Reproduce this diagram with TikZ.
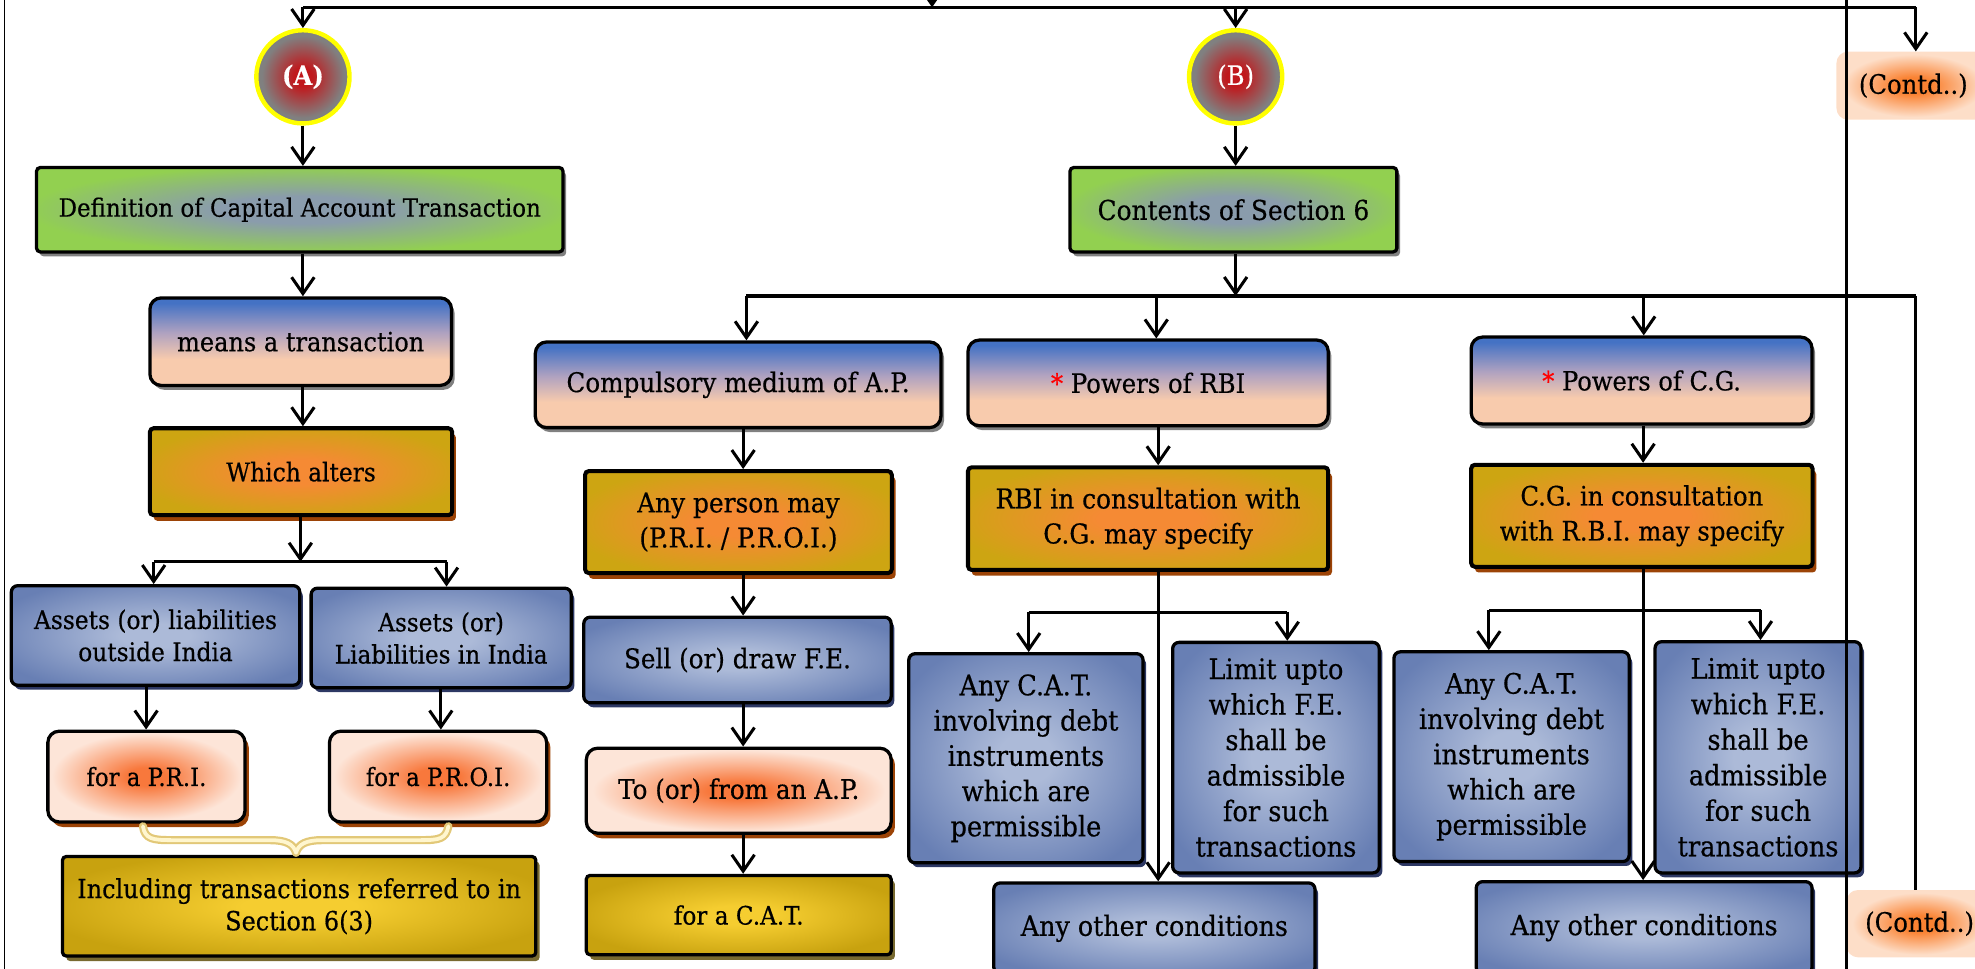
\documentclass[tikz,border=0pt]{standalone}
\usepackage{fontspec}
\setmainfont[Scale=0.885, FakeStretch=0.91, FakeBold=0.45]{DejaVu Serif}
\usetikzlibrary{arrows.meta,shadows}

% palette
\definecolor{grnOut}{RGB}{146,208,80}
\definecolor{grnIn}{RGB}{138,156,172}
\definecolor{bpBlue}{RGB}{68,114,196}
\definecolor{bpLav}{RGB}{176,162,192}
\definecolor{bpPeach}{RGB}{248,203,173}
\definecolor{musOut}{RGB}{205,165,18}
\definecolor{musIn}{RGB}{245,138,52}
\definecolor{musShadow}{RGB}{156,67,6}
\definecolor{slateOut}{RGB}{104,127,180}
\definecolor{slateIn}{RGB}{172,186,216}
\definecolor{slateShadow}{RGB}{45,56,100}
\definecolor{pchOut}{RGB}{253,229,216}
\definecolor{pchIn}{RGB}{248,120,60}
\definecolor{goldOut}{RGB}{200,162,15}
\definecolor{goldIn}{RGB}{245,205,48}
\definecolor{goldShadow}{RGB}{120,106,48}
\definecolor{ctdOut}{RGB}{253,222,200}
\definecolor{ctdIn}{RGB}{250,130,50}
\definecolor{ballOut}{RGB}{128,128,128}
\definecolor{ballIn}{RGB}{192,24,28}
\definecolor{ballRim}{RGB}{255,255,0}
\definecolor{softShadow}{RGB}{128,128,128}
\definecolor{braceEdge}{RGB}{226,200,120}
\definecolor{braceFill}{RGB}{255,246,206}

% glows and gradients used as box fills
\pgfdeclareradialshading{greenglow}{\pgfpointorigin}{color(0bp)=(grnIn); color(8bp)=(grnIn); color(26bp)=(grnOut); color(50bp)=(grnOut)}
\pgfdeclareradialshading{mustglow}{\pgfpointorigin}{color(0bp)=(musIn); color(7bp)=(musIn); color(28bp)=(musOut); color(50bp)=(musOut)}
\pgfdeclareradialshading{slateglow}{\pgfpointorigin}{color(0bp)=(slateIn); color(6bp)=(slateIn); color(30bp)=(slateOut); color(50bp)=(slateOut)}
\pgfdeclareradialshading{peachglow}{\pgfpointorigin}{color(0bp)=(pchIn); color(5bp)=(pchIn); color(24bp)=(pchOut); color(50bp)=(pchOut)}
\pgfdeclareradialshading{goldglow}{\pgfpointorigin}{color(0bp)=(goldIn); color(6bp)=(goldIn); color(28bp)=(goldOut); color(50bp)=(goldOut)}
\pgfdeclareradialshading{contdglow}{\pgfpointorigin}{color(0bp)=(ctdIn); color(6bp)=(ctdIn); color(23bp)=(ctdOut); color(50bp)=(ctdOut)}
\pgfdeclareradialshading{ballglow}{\pgfpointorigin}{color(0bp)=(ballIn); color(5bp)=(ballIn); color(22bp)=(ballOut); color(50bp)=(ballOut)}
\pgfdeclareverticalshading{bluepeach}{100bp}{color(0bp)=(bpPeach); color(40bp)=(bpPeach); color(55bp)=(bpLav); color(72bp)=(bpBlue); color(100bp)=(bpBlue)}

\newcommand\setfs[2]{\fontsize{#1bp}{#2bp}\selectfont}
% box given by its corners: style, name, x1, y1, x2, y2, text
\newcommand\placebox[7]{\node[#1, minimum width={((#5)-(#3))*1bp}, minimum height={((#6)-(#4))*1bp}] (#2) at ({((#3)+(#5))/2},{((#4)+(#6))/2}) {#7};}

\begin{document}
\begin{tikzpicture}[x=1bp, y=-1bp,
  conn/.style={line width=2.4bp, draw=black},
  arr/.style={conn, -{Straight Barb[length=13bp,width=18bp]}},
  boxbase/.style={draw=black, line width=2.6bp, align=center, inner sep=0pt, shade, font=\setfs{24}{28}},
  greenbox/.style={boxbase, rounded corners=3bp, shading=greenglow,
    drop shadow={shadow xshift=2.5bp, shadow yshift=-3.5bp, fill=softShadow, opacity=1}},
  gradbox/.style={boxbase, rounded corners=9bp, shading=bluepeach,
    drop shadow={shadow xshift=2.5bp, shadow yshift=-3.5bp, fill=softShadow, opacity=1}},
  mustbox/.style={boxbase, line width=3.2bp, rounded corners=3bp, shading=mustglow,
    drop shadow={shadow xshift=3bp, shadow yshift=-4.5bp, fill=musShadow, opacity=1}},
  slatebox/.style={boxbase, rounded corners=5bp, shading=slateglow,
    drop shadow={shadow xshift=2.5bp, shadow yshift=-3.5bp, fill=slateShadow, opacity=1}},
  peachbox/.style={boxbase, rounded corners=9bp, shading=peachglow,
    drop shadow={shadow xshift=3bp, shadow yshift=-4bp, fill=musShadow, opacity=1}},
  goldbox/.style={boxbase, rounded corners=3bp, shading=goldglow,
    drop shadow={shadow xshift=3bp, shadow yshift=-4bp, fill=goldShadow, opacity=1}},
  contdbox/.style={draw=none, shade, shading=contdglow, rounded corners=9bp, align=center, inner sep=0pt, font=\setfs{24}{28}},
  ball/.style={circle, draw=ballRim, line width=3.5bp, shade, shading=ballglow, minimum size=74bp, inner sep=0pt, text=white, font=\setfs{24}{26}},
]
\useasboundingbox (0,0) rectangle (1568,769);
\clip (0,0) rectangle (1568,769);

% ---------- column (A) ----------
\node[ball] (circA) at (240.5,61) {\textbf{(A)}};
\placebox{greenbox, font=\setfs{22.6}{26}}{def}{29}{133}{447}{200}{Definition of Capital Account Transaction}
\placebox{gradbox, font=\setfs{23.7}{27}}{means}{119}{236.5}{358.5}{306}{means a transaction}
\placebox{mustbox, font=\setfs{23}{27}}{alters}{119}{340}{359}{409}{Which alters}
\placebox{slatebox, font=\setfs{23}{25.5}}{assetsOut}{9}{465}{238}{544}{Assets (or) liabilities\\outside India}
\placebox{slatebox, font=\setfs{22.8}{25.5}}{assetsIn}{247}{467}{453.5}{546}{Assets (or)\\Liabilities in India}
\placebox{peachbox, font=\setfs{22.5}{26}}{pri}{38}{580.5}{194.5}{652.6}{for a P.R.I.}
\placebox{peachbox, font=\setfs{22.5}{26}}{proi}{261.6}{580.5}{434}{652.6}{for a P.R.O.I.}
\placebox{goldbox, font=\setfs{23.6}{25.5}}{incl}{49.6}{680}{425.4}{759}{Including transactions referred to in\\Section 6(3)}

% ---------- column (B) ----------
\node[ball] (circB) at (981,61) {(B)};
\placebox{greenbox, font=\setfs{24.5}{28}}{cont}{849.5}{133}{1109}{200}{Contents of Section 6}

\placebox{gradbox, font=\setfs{24.3}{28}}{comp}{425}{271.5}{747}{339.5}{Compulsory medium of A.P.}
\placebox{mustbox, font=\setfs{24.5}{27.8}}{anyp}{464.5}{374}{708}{455}{Any person may\\(P.R.I. / P.R.O.I.)}
\placebox{slatebox, font=\setfs{24.3}{28}}{sell}{463.5}{490}{707.5}{558}{Sell (or) draw F.E.}
\placebox{peachbox, font=\setfs{24.3}{28}}{toap}{465.5}{594}{707.5}{661.5}{To (or) from an A.P.}
\placebox{goldbox, font=\setfs{22.8}{28}}{forcat}{465.5}{695}{707.5}{758}{for a C.A.T.}

\placebox{gradbox, font=\setfs{24}{28}}{prbi}{768.5}{270}{1054.5}{338}{{\color{red}*} Powers of RBI}
\placebox{mustbox, font=\setfs{24.5}{27.8}}{rbic}{768.5}{371}{1054.5}{452.5}{RBI in consultation with\\C.G. may specify}
\placebox{slatebox, font=\setfs{25.3}{28}}{catR}{721.5}{519}{907.5}{685}{Any C.A.T.\\involving debt\\instruments\\which are\\permissible}
\placebox{slatebox, font=\setfs{25.3}{28.2}}{limR}{931}{510}{1095}{693}{Limit upto\\which F.E.\\shall be\\admissible\\for such\\transactions}
\placebox{slatebox, font=\setfs{25}{28}}{othR}{789}{701}{1044}{773}{Any other conditions}

\placebox{gradbox, font=\setfs{23.8}{28}}{pcg}{1168}{267.6}{1438.6}{336.6}{{\color{red}*} Powers of C.G.}
\placebox{mustbox, font=\setfs{24}{27.8}}{cgc}{1168}{369}{1439}{450}{C.G. in consultation\\with R.B.I. may specify}
\placebox{slatebox, font=\setfs{25.3}{28}}{catC}{1106.7}{517.5}{1293.4}{684}{Any C.A.T.\\involving debt\\instruments\\which are\\permissible}
\placebox{slatebox, font=\setfs{25.3}{28.2}}{limC}{1314}{509.5}{1477.5}{693}{Limit upto\\which F.E.\\shall be\\admissible\\for such\\transactions}
\placebox{slatebox, font=\setfs{25}{28}}{othC}{1172}{700}{1438.6}{773}{Any other conditions}

% ---------- continuation markers ----------
\placebox{contdbox}{contd1}{1458}{41}{1580}{95}{(Contd..)}
\placebox{contdbox}{contd2}{1466}{706.6}{1582}{760}{(Contd..)}

% brace joining the two P.R.I. / P.R.O.I. boxes
\coordinate (brL) at (113.5,656);
\coordinate (brR) at (356,656);
\coordinate (brTip) at (235,677);
\foreach \wd/\col in {6.5bp/braceEdge, 3bp/braceFill}{
  \draw[line width=\wd, \col, line cap=round, line join=round]
    (brL) .. controls (115,666) and (121,667) .. (136,667) -- (214,667)
    .. controls (227,667) and (233,670) .. (brTip)
    .. controls (237,670) and (243,667) .. (256,667) -- (334,667)
    .. controls (349,667) and (354,666) .. (brR);
}

% ---------- connectors ----------
\coordinate (inTop) at (740,-30);
\coordinate (topA) at (240.5,5.8);
\coordinate (topC) at (1521,5.8);
\draw[conn] (topA) -- (topC);
\draw[arr] (inTop) -- (inTop |- topA);
\draw[arr] (topA) -- (circA);
\draw[arr] (circB |- topA) -- (circB);
\draw[arr] (topC) -- (topC |- contd1.north);

\draw[arr] (circA) -- (circA |- def.north);
\draw[arr] (def.south -| circA) -- (means.north -| circA);
\draw[arr] (means.south -| circA) -- (alters.north -| circA);

\coordinate (jA) at (238.5,446);
\coordinate (jAL) at (122,446);
\coordinate (jAR) at (354.5,446);
\draw[arr] (alters.south -| jA) -- (jA);
\draw[conn] (jAL) -- (jAR);
\draw[arr] (jAL) -- (jAL |- assetsOut.north);
\draw[arr] (jAR) -- (jAR |- assetsIn.north);
\coordinate (colPRI) at (116,0);
\coordinate (colPROI) at (350,0);
\draw[arr] (assetsOut.south -| colPRI) -- (pri.north -| colPRI);
\draw[arr] (assetsIn.south -| colPROI) -- (proi.north -| colPROI);

\draw[arr] (circB) -- (circB |- cont.north);
\coordinate (jB) at (981,235);
\coordinate (hL) at (592.6,235);
\coordinate (hR) at (1521,235);
\coordinate (hRBI) at (918,235);
\coordinate (hCG) at (1305,235);
\draw[arr] (cont.south -| jB) -- (jB);
\draw[conn] (hL) -- (hR);
\draw[arr] (hL) -- (hL |- comp.north);
\draw[arr] (hRBI) -- (hRBI |- prbi.north);
\draw[arr] (hCG) -- (hCG |- pcg.north);
\draw[conn] (hR) -- (hR |- contd2.north);

\coordinate (colAP) at (590,0);
\draw[arr] (comp.south -| colAP) -- (anyp.north -| colAP);
\draw[arr] (anyp.south -| colAP) -- (sell.north -| colAP);
\draw[arr] (sell.south -| colAP) -- (toap.north -| colAP);
\draw[arr] (toap.south -| colAP) -- (forcat.north -| colAP);

\coordinate (colR) at (919.5,0);
\coordinate (bRL) at (816.7,486);
\coordinate (bRR) at (1022,486);
\draw[arr] (prbi.south -| colR) -- (rbic.north -| colR);
\draw[arr] (rbic.south -| colR) -- (othR.north -| colR);
\draw[conn] (bRL) -- (bRR);
\draw[arr] (bRL) -- (bRL |- catR.north);
\draw[arr] (bRR) -- (bRR |- limR.north);

\coordinate (colC) at (1304.5,0);
\coordinate (bCL) at (1182,484.3);
\coordinate (bCR) at (1397.7,484.3);
\draw[arr] (pcg.south -| colC) -- (cgc.north -| colC);
\draw[arr] (cgc.south -| colC) -- (othC.north -| colC);
\draw[conn] (bCL) -- (bCR);
\draw[arr] (bCL) -- (bCL |- catC.north);
\draw[arr] (bCR) -- (bCR |- limC.north);

% page rules
\coordinate (ruleLT) at (3.5,0);
\coordinate (ruleLB) at (3.5,769);
\coordinate (ruleRT) at (1466,0);
\coordinate (ruleRB) at (1466,769);
\draw[line width=1bp] (ruleLT) -- (ruleLB);
\draw[line width=1.8bp] (ruleRT) -- (ruleRB);
\end{tikzpicture}
\end{document}
